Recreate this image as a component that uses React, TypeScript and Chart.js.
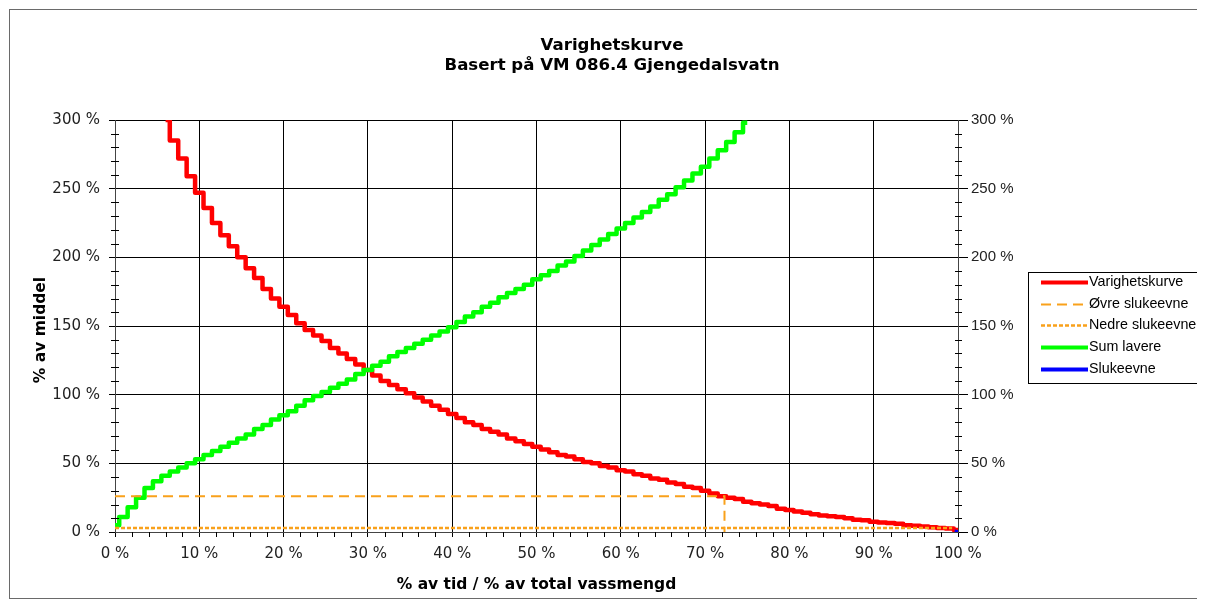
import React, { useEffect, useRef } from "react";
import { Chart, registerables } from "chart.js";

Chart.register(...registerables);

// ---------- text ----------
const titleLines = ["Varighetskurve", "Basert på VM 086.4 Gjengedalsvatn"];
const xAxisTitle = "% av tid / % av total vassmengd";
const yAxisTitle = "% av middel";
const seriesNames = ["Varighetskurve", "Øvre slukeevne", "Nedre slukeevne", "Sum lavere", "Slukeevne"];

// ---------- ticks ----------
const xTickValues = [0, 10, 20, 30, 40, 50, 60, 70, 80, 90, 100];
const yTickValues = [0, 50, 100, 150, 200, 250, 300];
const xMinorStep = 2;
const yMinorStep = 10;

// ---------- Varighetskurve (duration curve) ----------
const durationX = [
  6, 7, 8, 9, 10, 11, 12, 13, 14, 15, 16, 17, 18, 19, 20, 21, 22, 23, 24, 25,
  26, 27, 28, 29, 30, 31, 32, 33, 34, 35, 36, 37, 38, 39, 40, 41, 42, 43, 44, 45,
  46, 47, 48, 49, 50, 51, 52, 53, 54, 55, 56, 57, 58, 59, 60, 61, 62, 63, 64, 65,
  66, 67, 68, 69, 70, 71, 72, 73, 74, 75, 76, 77, 78, 79, 80, 81, 82, 83, 84, 85,
  86, 87, 88, 89, 90, 91, 92, 93, 94, 95, 96, 97, 98, 99, 100,
];
const durationY = [
  300, 285, 272, 259, 247, 236, 225, 216, 208, 200, 192, 185, 177, 170, 164, 158, 152, 147, 143, 139,
  134, 130, 126, 122, 118, 114, 110, 107, 104, 101, 98, 95, 92, 89, 86, 83, 80, 78, 75, 73,
  71, 68, 66, 64, 62, 60, 58, 56, 55, 53, 51, 50, 48, 47, 45, 44, 42, 41, 39, 38,
  36, 35, 33, 32, 30, 28, 26, 25, 24, 22, 21, 20, 19, 17, 16, 15, 14, 13, 12, 11.5,
  11, 10, 9, 8.5, 7.5, 7, 6.5, 6, 5, 4.5, 4, 3.5, 3, 2.5, 1.5,
];

// ---------- Sum lavere ----------
const sumLowerX = [
  0, 1, 2, 3, 4, 5, 6, 7, 8, 9, 10, 11, 12, 13, 14, 15, 16, 17, 18, 19,
  20, 21, 22, 23, 24, 25, 26, 27, 28, 29, 30, 31, 32, 33, 34, 35, 36, 37, 38, 39,
  40, 41, 42, 43, 44, 45, 46, 47, 48, 49, 50, 51, 52, 53, 54, 55, 56, 57, 58, 59,
  60, 61, 62, 63, 64, 65, 66, 67, 68, 69, 70, 71, 72, 73, 74, 75,
];
const sumLowerY = [
  5, 11, 18, 25, 32, 37, 41, 44, 47, 50, 53, 56, 59, 62, 65, 68, 71, 75, 78, 82,
  85, 88, 92, 96, 99, 102, 105, 108, 111, 115, 118, 121, 124, 128, 131, 134, 137, 140, 143, 146,
  149, 153, 157, 160, 164, 167, 171, 174, 177, 180, 184, 187, 190, 194, 197, 201, 205, 209, 213, 217,
  221, 225, 229, 233, 237, 242, 246, 251, 256, 261, 266, 272, 278, 284, 291, 298,
];

// ---------- capacity lines ----------
const upperCapX = [0, 72.3, 72.3];
const upperCapY = [26, 26, 0];
const lowerCapX = [0, 99.3];
const lowerCapY = [3, 3];
const capacityX = [99.6, 100];
const capacityY = [0.4, 0];

const CANVAS_W = 1196;
const CANVAS_H = 592;

const toPoints = (xs: number[], ys: number[]) => xs.map((x, i) => ({ x, y: ys[i] }));

const decor = {
  id: "decor",
  afterDraw(chart: any) {
    const { ctx, chartArea: a, scales } = chart;
    ctx.save();

    // outer frame
    ctx.strokeStyle = "#6a6a6a";
    ctx.lineWidth = 1;
    ctx.strokeRect(1.5, 1.5, chart.width - 3, chart.height - 3);

    // minor ticks
    ctx.strokeStyle = "#000";
    ctx.beginPath();
    for (let v = yMinorStep; v < 300; v += yMinorStep) {
      if (v % 50 === 0) continue;
      const py = Math.round(scales.y.getPixelForValue(v)) + 0.5;
      ctx.moveTo(a.left - 4, py);
      ctx.lineTo(a.left + 4, py);
      ctx.moveTo(a.right - 3, py);
      ctx.lineTo(a.right + 4, py);
    }
    for (let v = xMinorStep; v < 100; v += xMinorStep) {
      if (v % 10 === 0) continue;
      const px = Math.round(scales.x.getPixelForValue(v)) + 0.5;
      ctx.moveTo(px, a.bottom);
      ctx.lineTo(px, a.bottom + 5);
    }
    ctx.stroke();

    // title
    ctx.fillStyle = "#000";
    ctx.textAlign = "center";
    ctx.textBaseline = "alphabetic";
    ctx.font = 'bold 16.6px "DejaVu Sans"';
    ctx.fillText(titleLines[0], 604, 42);
    ctx.fillText(titleLines[1], 604, 62);

    // axis titles
    ctx.font = 'bold 15.5px "DejaVu Sans"';
    ctx.textBaseline = "middle";
    ctx.fillText(xAxisTitle, (a.left + a.right) / 2, 577);
    ctx.save();
    ctx.translate(33, 322);
    ctx.rotate(-Math.PI / 2);
    ctx.fillText(yAxisTitle, 0, 0);
    ctx.restore();

    // legend
    const bx = 1020, by = 264, bw = 172, bh = 111;
    ctx.fillStyle = "#fff";
    ctx.fillRect(bx, by, bw, bh);
    ctx.strokeStyle = "#000";
    ctx.lineWidth = 1;
    ctx.strokeRect(bx + 0.5, by + 0.5, bw, bh);
    ctx.font = '14.3px "Liberation Sans"';
    ctx.textAlign = "left";
    ctx.textBaseline = "middle";
    chart.data.datasets.forEach((ds: any, i: number) => {
      const y = Math.round(274 + i * 21.7) + 0.5;
      ctx.save();
      ctx.strokeStyle = ds.borderColor;
      ctx.lineWidth = ds.legendWidth;
      ctx.setLineDash(ds.borderDash || []);
      ctx.beginPath();
      ctx.moveTo(1033, y);
      ctx.lineTo(1080, y);
      ctx.stroke();
      ctx.restore();
      ctx.fillStyle = "#000";
      ctx.fillText(ds.label, 1081, y);
    });

    ctx.restore();
  },
};

export default function App() {
  const ref = useRef<HTMLCanvasElement>(null);

  useEffect(() => {
    const canvas = ref.current!;
    const chart = new Chart(canvas, {
      type: "line",
      data: {
        datasets: [
          {
            label: seriesNames[0],
            data: toPoints(durationX, durationY),
            borderColor: "#ff0000",
            borderWidth: 4.5,
            borderJoinStyle: "round",
            stepped: "middle",
            pointRadius: 0,
            order: 2,
            legendWidth: 4,
          } as any,
          {
            label: seriesNames[1],
            data: toPoints(upperCapX, upperCapY),
            borderColor: "#f9a11b",
            borderWidth: 2,
            borderDash: [10, 6],
            pointRadius: 0,
            order: 0,
            legendWidth: 2,
          } as any,
          {
            label: seriesNames[2],
            data: toPoints(lowerCapX, lowerCapY),
            borderColor: "#f9a11b",
            borderWidth: 2.5,
            borderDash: [4, 2],
            pointRadius: 0,
            order: 0,
            legendWidth: 2.5,
          } as any,
          {
            label: seriesNames[3],
            data: toPoints(sumLowerX, sumLowerY),
            borderColor: "#00ff00",
            borderWidth: 4.5,
            borderJoinStyle: "round",
            stepped: "middle",
            pointRadius: 0,
            order: 1,
            legendWidth: 4,
          } as any,
          {
            label: seriesNames[4],
            data: toPoints(capacityX, capacityY),
            borderColor: "#0000ff",
            borderWidth: 4,
            pointRadius: 0,
            order: 0,
            legendWidth: 4,
          } as any,
        ],
      },
      options: {
        responsive: false,
        animation: false,
        devicePixelRatio: 1,
        layout: { padding: { top: 112, left: 0, right: 0, bottom: 0 } },
        plugins: {
          legend: { display: false },
          title: { display: false },
          tooltip: { enabled: false },
        },
        scales: {
          x: {
            type: "linear",
            position: "bottom",
            min: 0,
            max: 100,
            afterFit: (s: any) => { s.height = 68; },
            afterBuildTicks: (s: any) => { s.ticks = xTickValues.map((v) => ({ value: v })); },
            ticks: {
              callback: (v: any) => `${v} %`,
              font: { family: "DejaVu Sans", size: 15 },
              color: "#222",
              padding: 8,
              maxRotation: 0,
              autoSkip: false,
            },
            grid: { color: "#000", lineWidth: 1, tickLength: 5, tickColor: "#000" },
            border: { color: "#444", width: 1 },
          },
          y: {
            type: "linear",
            position: "left",
            min: 0,
            max: 300,
            afterFit: (s: any) => { s.width = 107; },
            afterBuildTicks: (s: any) => { s.ticks = yTickValues.map((v) => ({ value: v })); },
            ticks: {
              callback: (v: any) => `${v} %`,
              font: { family: "DejaVu Sans", size: 15 },
              color: "#222",
              padding: 9,
            },
            grid: { color: "#000", lineWidth: 1, tickLength: 6, tickColor: "#000" },
            border: { color: "#444", width: 1 },
          },
          y2: {
            type: "linear",
            position: "right",
            min: 0,
            max: 300,
            afterFit: (s: any) => { s.width = CANVAS_W - 950; },
            afterBuildTicks: (s: any) => { s.ticks = yTickValues.map((v) => ({ value: v })); },
            ticks: {
              callback: (v: any) => `${v} %`,
              font: { family: "Liberation Sans", size: 15 },
              color: "#222",
              padding: 3,
            },
            grid: { drawOnChartArea: false, color: "#000", tickLength: 10, tickColor: "#000" },
            border: { color: "#444", width: 1 },
          },
        },
      } as any,
      plugins: [decor],
    });
    return () => chart.destroy();
  }, []);

  return <canvas ref={ref} width={CANVAS_W} height={CANVAS_H} style={{ display: "block" }} />;
}
